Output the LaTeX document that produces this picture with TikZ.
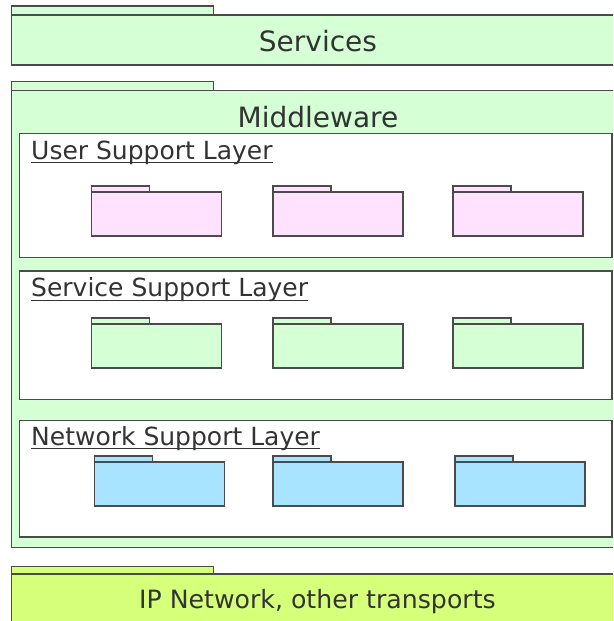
\documentclass[tikz,border=0pt]{standalone}
\usepackage{fontspec}
\setmainfont{DejaVu Sans}
\definecolor{lgreen}{RGB}{213,255,213}
\definecolor{lpink}{RGB}{255,226,253}
\definecolor{lblue}{RGB}{168,228,255}
\definecolor{lyell}{RGB}{214,255,122}
\definecolor{edge}{RGB}{75,75,75}
\definecolor{txt}{RGB}{51,51,51}
\newcommand\pkgbox[5]{% x, tabtop, bodytop, bottom, color
  \draw[boxline,fill=#5] (#1,#2) rectangle ++(58,#3-#2);
  \draw[boxline,fill=#5] (#1,#3) rectangle (#1+130,#4);
}
\begin{document}
\begin{tikzpicture}[x=1pt,y=-1pt,
  boxline/.style={draw=edge,line width=1.1pt},
  bigtext/.style={text=txt,font=\fontsize{28}{32}\selectfont,inner sep=0pt,anchor=base},
  iptext/.style={text=txt,font=\fontsize{25.2}{29}\selectfont,inner sep=0pt,anchor=base},
  laytext/.style={text=txt,font=\fontsize{25}{28}\selectfont,inner sep=0pt,anchor=base west}]
\useasboundingbox (0,0) rectangle (613,621);
\clip (0,0) rectangle (613,621);
% Services
\draw[boxline,fill=lgreen] (11.3,6) rectangle (213.7,15);
\draw[boxline,fill=lgreen] (11.3,15) rectangle (660,65);
\node[bigtext] (services) at (318,51.7) {Services};
% Middleware
\draw[boxline,fill=lgreen] (11.3,81.7) rectangle (213.7,90.7);
\draw[boxline,fill=lgreen] (11.3,90.7) rectangle (660,547.3);
\node[bigtext] (middleware) at (318,127.3) {Middleware};
% Layers
\draw[boxline,fill=white] (19.3,133.7) rectangle (612,257.3);
\draw[boxline,fill=white] (19.3,271) rectangle (612,399.5);
\draw[boxline,fill=white] (19.3,420.7) rectangle (612,537);
\node[laytext] (usl) at (31,159) {User Support Layer};
\draw[txt,line width=1.6pt] ([yshift=-3.6pt]usl.base west) -- ([yshift=-3.6pt]usl.base east);
\node[laytext] (ssl) at (31,296.8) {Service Support Layer};
\draw[txt,line width=1.6pt] ([yshift=-3.6pt]ssl.base west) -- ([yshift=-3.6pt]ssl.base east);
\node[laytext] (nsl) at (31,445) {Network Support Layer};
\draw[txt,line width=1.6pt] ([yshift=-3.6pt]nsl.base west) -- ([yshift=-3.6pt]nsl.base east);
% Packages
\pkgbox{91.5}{186}{192}{236}{lpink}
\pkgbox{273}{186}{192}{236}{lpink}
\pkgbox{453}{186}{192}{236}{lpink}
\pkgbox{91.5}{318}{324}{368}{lgreen}
\pkgbox{273}{318}{324}{368}{lgreen}
\pkgbox{453}{318}{324}{368}{lgreen}
\pkgbox{94.5}{456}{462}{506}{lblue}
\pkgbox{273}{456}{462}{506}{lblue}
\pkgbox{455}{456}{462}{506}{lblue}
% IP Network
\draw[boxline,fill=lyell] (11.3,566.7) rectangle (213.7,574);
\draw[boxline,fill=lyell] (11.3,574) rectangle (660,660);
\node[iptext] (ipnet) at (317.5,608) {IP Network, other transports};
\end{tikzpicture}
\end{document}
